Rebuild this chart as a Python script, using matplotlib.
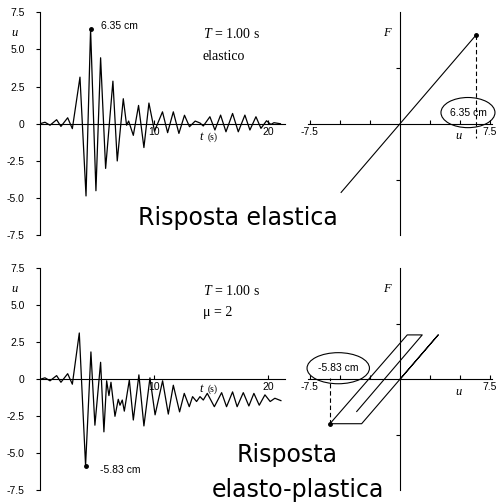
import matplotlib
matplotlib.use("Agg")
import matplotlib.pyplot as plt
from matplotlib.patches import Ellipse

plt.rcParams['font.family'] = 'Liberation Sans'
plt.rcParams['mathtext.fontset'] = 'custom'
plt.rcParams['mathtext.it'] = 'Liberation Serif:italic'
plt.rcParams['mathtext.rm'] = 'Liberation Serif'

# time history, elastic system (peaks and troughs)
t_el = [0, 0.44, 0.88, 1.46, 1.84, 2.43, 2.84, 3.51, 4.04, 4.44, 4.91, 5.32, 5.76,
        6.40, 6.78, 7.31, 7.60, 7.78, 8.19, 8.65, 9.12, 9.56, 10.05, 10.75, 11.2,
        11.7, 12.19, 12.68, 13.12, 13.62, 14.04, 14.33, 14.91, 15.35, 15.85, 16.32,
        16.9, 17.4, 17.98, 18.42, 18.95, 19.39, 19.88, 20.26, 20.53, 21.1]
u_el = [0, 0.1, -0.1, 0.27, -0.18, 0.4, -0.33, 3.13, -4.85, 6.35, -4.5, 4.43, -3.0,
        2.86, -2.5, 1.68, -0.1, 0.18, -0.78, 1.23, -1.6, 1.39, -0.5, 0.8, -0.6,
        0.8, -0.65, 0.57, -0.2, 0.18, 0.05, -0.15, 0.47, -0.42, 0.58, -0.54,
        0.69, -0.54, 0.58, -0.42, 0.47, -0.31, 0.2, -0.05, 0.07, 0.0]

# time history, elasto-plastic system
t_pl = [0, 0.44, 0.88, 1.46, 1.84, 2.43, 2.84, 3.45, 4.0, 4.47, 4.82, 5.32, 5.61,
        5.85, 6.05, 6.23, 6.58, 6.87, 7.02, 7.22, 7.4, 7.84, 8.19, 8.68, 9.12,
        9.65, 10.1, 10.76, 11.26, 11.7, 12.25, 12.66, 13.1, 13.39, 13.74, 14.04,
        14.33, 14.68, 15.3, 15.94, 16.37, 16.9, 17.3, 17.84, 18.33, 18.77, 19.24,
        19.74, 20.2, 20.61, 21.14]
u_pl = [0, 0.1, -0.1, 0.25, -0.2, 0.38, -0.33, 3.13, -5.83, 1.85, -3.1, 1.15, -3.55,
        -0.1, -1.1, -0.2, -2.5, -1.35, -1.75, -1.4, -2.15, -0.05, -2.75, 0.3, -3.15,
        0.1, -2.4, -0.1, -2.35, -0.4, -2.2, -0.95, -1.85, -1.17, -1.5, -1.17,
        -1.4, -0.95, -1.85, -0.9, -1.85, -0.85, -1.85, -0.9, -1.8, -0.95, -1.75,
        -1.05, -1.5, -1.28, -1.44]

# force-displacement
u_fd_el = [-4.9, 6.35]
F_fd_el = [-1.23, 1.59]
u_fd_pl = [0, 3.19, -3.19, -5.83, 0.61, 1.86, -3.6]
F_fd_pl = [0, 0.8, -0.8, -0.8, 0.8, 0.8, -0.58]

peak_el = (4.44, 6.35)
peak_pl = (4.0, -5.83)
ylabels = ['-7.5', '-5.0', '-2.5', '0', '2.5', '5.0', '7.5']
yticks = [-7.5, -5.0, -2.5, 0, 2.5, 5.0, 7.5]

fig = plt.figure(figsize=(4.96, 5.03), dpi=100)
serif = 'Liberation Serif'


def time_axes(rect, t, u, peak, peak_txt, peak_txt_pos, line2, tlab_y):
    ax = fig.add_axes(rect)
    ax.plot(t, u, color='k', lw=0.9)
    ax.plot(*peak, 'ko', ms=2.5)
    ax.text(*peak_txt_pos, peak_txt, fontsize=7.5, va='center', ha='left')
    ax.set_xlim(0, 21.5)
    ax.set_ylim(-7.5, 7.5)
    for s in ['top', 'right']:
        ax.spines[s].set_visible(False)
    ax.spines['bottom'].set_position(('data', 0))
    ax.spines['left'].set_linewidth(0.8)
    ax.spines['bottom'].set_linewidth(0.8)
    ax.set_yticks(yticks)
    ax.set_yticklabels(ylabels)
    ax.set_xticks([10, 20])
    ax.set_xticklabels(['10', '20'])
    ax.tick_params(axis='y', direction='out', length=3, width=0.8, labelsize=7.5, pad=8)
    ax.tick_params(axis='x', direction='in', length=3, width=0.8, labelsize=7.5, pad=2)
    ax.text(-2.2, 6.1, '$\\mathit{u}$', fontsize=9, ha='center', va='center', clip_on=False)
    ax.text(13.95, tlab_y, '$\\mathit{t}$', fontsize=9, ha='left', va='center')
    ax.text(14.7, tlab_y, '(s)', fontsize=7, family=serif, ha='left', va='center')
    ax.text(14.3, 6.0, '$\\mathit{T}$ = 1.00 s', fontsize=10, family=serif,
            ha='left', va='center')
    ax.text(14.3, 4.5, line2, fontsize=10, family=serif, ha='left', va='center')
    return ax


def fd_axes(rect):
    ax = fig.add_axes(rect)
    ax.set_xlim(-7.7, 7.7)
    ax.set_ylim(-2, 2)
    for s in ['top', 'right']:
        ax.spines[s].set_visible(False)
    ax.spines['bottom'].set_position(('data', 0))
    ax.spines['left'].set_position(('data', 0))
    ax.spines['left'].set_linewidth(0.8)
    ax.spines['bottom'].set_linewidth(0.8)
    ax.set_xticks([-7.5, -5, -2.5, 2.5, 5, 7.5])
    ax.set_xticklabels(['-7.5', '', '', '', '', '7.5'])
    ax.set_yticks([-1, 1])
    ax.set_yticklabels(['', ''])
    ax.tick_params(axis='x', direction='in', length=3, width=0.8, labelsize=7.5, pad=2)
    ax.tick_params(axis='y', direction='out', length=3, width=0.8)
    ax.text(-1.0, 1.63, '$\\mathit{F}$', fontsize=9, ha='center', va='center')
    ax.text(4.9, -0.12, '$\\mathit{u}$', fontsize=9, ha='center', va='top')
    return ax


ax1 = time_axes([0.0806, 0.532, 0.494, 0.444], t_el, u_el, peak_el, '6.35 cm',
                (5.35, 6.56), 'elastico', -0.9)
ax3 = time_axes([0.0806, 0.0252, 0.494, 0.4414], t_pl, u_pl, peak_pl, '-5.83 cm',
                (5.26, -6.13), '\u03bc = 2', -0.65)

ax2 = fd_axes([0.620, 0.532, 0.3726, 0.444])
ax2.plot(u_fd_el, F_fd_el, color='k', lw=0.8)
ax2.plot(u_fd_el[-1], F_fd_el[-1], 'ko', ms=2.5)
ax2.plot([u_fd_el[-1], u_fd_el[-1]], [F_fd_el[-1], -0.25], color='k', lw=0.8,
         ls=(0, (4, 2.5)))
ax2.add_patch(Ellipse((5.67, 0.2), 4.5, 0.54, fill=False, lw=0.8, clip_on=False))
ax2.text(5.67, 0.2, '6.35 cm', fontsize=7.5, ha='center', va='center')

ax4 = fd_axes([0.620, 0.0252, 0.3726, 0.4414])
ax4.plot(u_fd_pl, F_fd_pl, color='k', lw=0.8)
ax4.plot(u_fd_pl[3], F_fd_pl[3], 'ko', ms=2.5)
ax4.plot([u_fd_pl[3], u_fd_pl[3]], [F_fd_pl[3], 0.03], color='k', lw=0.8,
         ls=(0, (4, 2.5)))
ax4.add_patch(Ellipse((-5.14, 0.2), 5.2, 0.56, fill=False, lw=0.8, clip_on=False))
ax4.text(-5.14, 0.2, '-5.83 cm', fontsize=7.5, ha='center', va='center')

fig.text(0.48, 0.567, 'Risposta elastica', fontsize=17, family='DejaVu Sans',
         ha='center', va='center')
fig.text(0.579, 0.095, 'Risposta', fontsize=17, family='DejaVu Sans',
         ha='center', va='center')
fig.text(0.601, 0.026, 'elasto-plastica', fontsize=17, family='DejaVu Sans',
         ha='center', va='center')

fig.savefig('out.png', dpi=100)
